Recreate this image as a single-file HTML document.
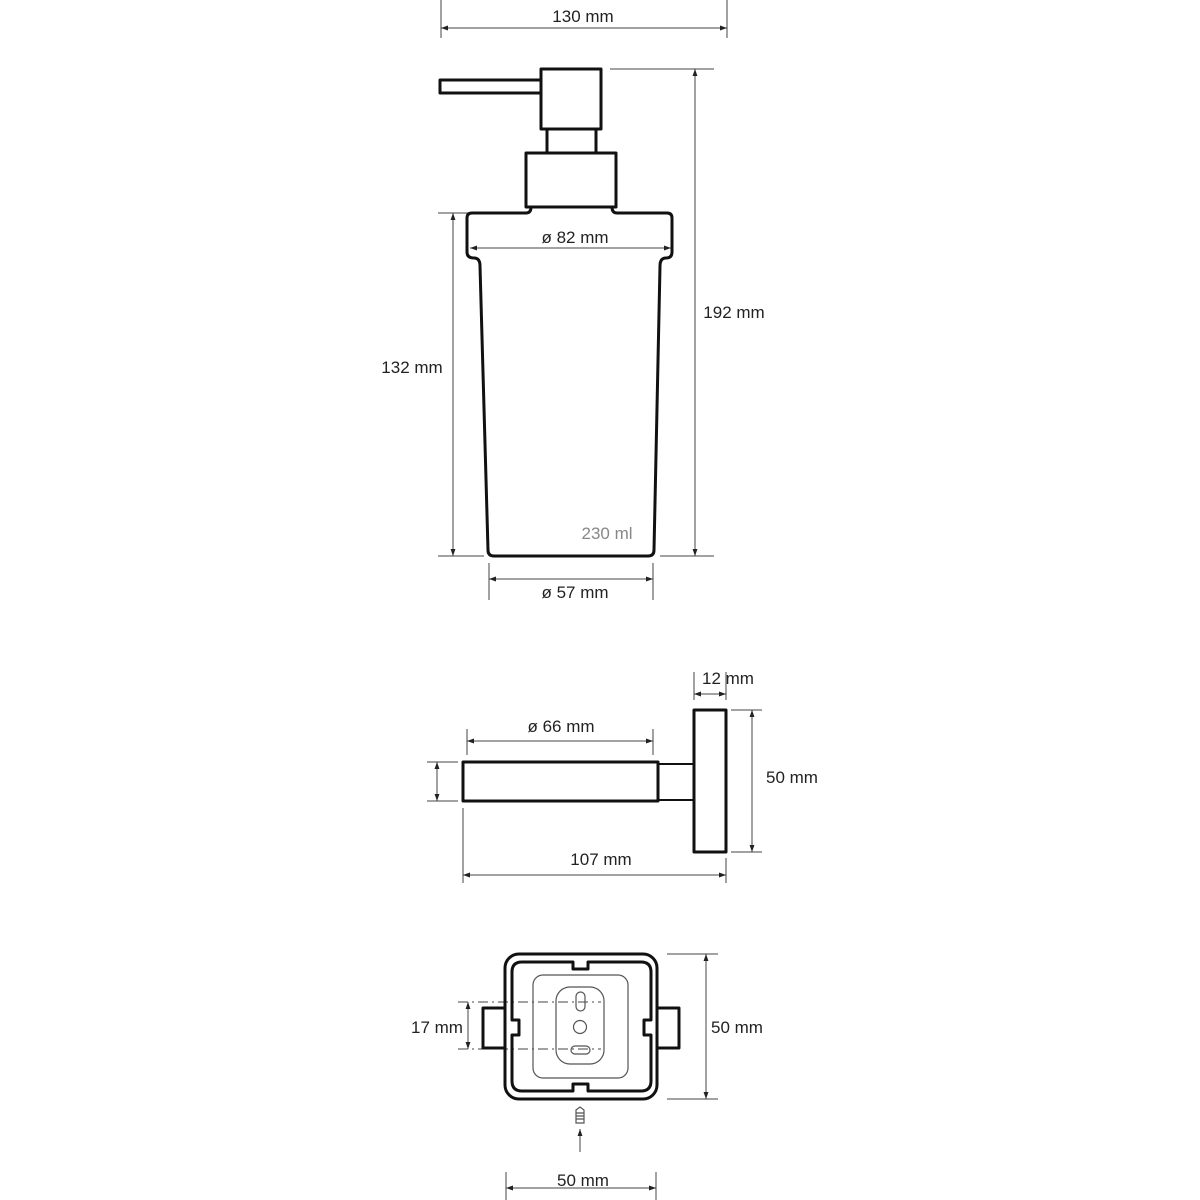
<!DOCTYPE html>
<html><head><meta charset="utf-8"><style>
html,body{margin:0;padding:0;background:#fff}
svg{display:block}
text{font-family:"Liberation Sans",sans-serif;font-size:17px;fill:#222;text-anchor:middle}
</style></head><body>
<svg width="1200" height="1200" viewBox="0 0 1200 1200" xmlns="http://www.w3.org/2000/svg">
<defs>
<marker id="a" viewBox="0 0 10 10" refX="10" refY="5" markerWidth="7" markerHeight="7" orient="auto-start-reverse"><path d="M0,1.5 L10,5 L0,8.5 z" fill="#222"/></marker>
</defs>
<g stroke="#444" stroke-width="1" fill="none">
<line x1="441" y1="0" x2="441" y2="38"/><line x1="727" y1="0" x2="727" y2="38"/>
<line x1="441" y1="28" x2="727" y2="28" marker-start="url(#a)" marker-end="url(#a)"/>
<line x1="610" y1="69" x2="714" y2="69"/><line x1="660" y1="556" x2="714" y2="556"/>
<line x1="695" y1="69" x2="695" y2="556" marker-start="url(#a)" marker-end="url(#a)"/>
<line x1="438" y1="213" x2="468" y2="213"/><line x1="438" y1="556" x2="484" y2="556"/>
<line x1="453" y1="213" x2="453" y2="556" marker-start="url(#a)" marker-end="url(#a)"/>
<line x1="470" y1="248" x2="671" y2="248" marker-start="url(#a)" marker-end="url(#a)"/>
<line x1="489" y1="563" x2="489" y2="600"/><line x1="653" y1="563" x2="653" y2="600"/>
<line x1="489" y1="579" x2="653" y2="579" marker-start="url(#a)" marker-end="url(#a)"/>
<line x1="467" y1="729" x2="467" y2="755"/><line x1="653" y1="729" x2="653" y2="755"/>
<line x1="467" y1="741" x2="653" y2="741" marker-start="url(#a)" marker-end="url(#a)"/>
<line x1="694" y1="672" x2="694" y2="700"/><line x1="726" y1="672" x2="726" y2="700"/>
<line x1="694" y1="694" x2="726" y2="694" marker-start="url(#a)" marker-end="url(#a)"/>
<line x1="731" y1="710" x2="762" y2="710"/><line x1="731" y1="852" x2="762" y2="852"/>
<line x1="752" y1="710" x2="752" y2="852" marker-start="url(#a)" marker-end="url(#a)"/>
<line x1="427" y1="762" x2="458" y2="762"/><line x1="427" y1="801" x2="458" y2="801"/>
<line x1="437" y1="762" x2="437" y2="801" marker-start="url(#a)" marker-end="url(#a)"/>
<line x1="463" y1="808" x2="463" y2="883"/><line x1="726" y1="858" x2="726" y2="883"/>
<line x1="463" y1="875" x2="726" y2="875" marker-start="url(#a)" marker-end="url(#a)"/>
<line x1="667" y1="954" x2="718" y2="954"/><line x1="667" y1="1099" x2="718" y2="1099"/>
<line x1="706" y1="954" x2="706" y2="1099" marker-start="url(#a)" marker-end="url(#a)"/>
<line x1="468" y1="1002" x2="468" y2="1049" marker-start="url(#a)" marker-end="url(#a)"/>
<line x1="506" y1="1172" x2="506" y2="1200"/><line x1="656" y1="1172" x2="656" y2="1200"/>
<line x1="506" y1="1188" x2="656" y2="1188" marker-start="url(#a)" marker-end="url(#a)"/>
<line x1="580" y1="1152" x2="580" y2="1129" marker-end="url(#a)"/>
<line x1="458" y1="1002" x2="601" y2="1002" stroke-dasharray="10,4,2,4"/>
<line x1="458" y1="1049" x2="601" y2="1049" stroke-dasharray="10,4,2,4"/>
</g>
<g stroke="#111" stroke-width="3" fill="none" stroke-linejoin="round">
<rect x="440" y="80" width="101" height="13"/>
<rect x="541" y="69" width="60" height="60"/>
<line x1="547" y1="129" x2="547" y2="153"/><line x1="596" y1="129" x2="596" y2="153"/>
<rect x="526" y="153" width="90" height="54"/>
<path d="M531,207 Q531,213 526,213 L472,213 Q467,213 467,218 L467,252 Q467,258 474,258 Q480,258 480,266 L488,550 Q488,556 494,556 L648,556 Q654,556 654,550 L660,266 Q660,258 666,258 Q672,258 672,252 L672,218 Q672,213 667,213 L617,213 Q612,213 612,207"/>
<rect x="463" y="762" width="195" height="39"/>
<rect x="658" y="764" width="36" height="36" stroke-width="2"/>
<rect x="694" y="710" width="32" height="142"/>
<rect x="505" y="954" width="152" height="145" rx="14"/>
<path d="M522,962 L573,962 L573,969 L588,969 L588,962 L641,962 Q651,962 651,972 L651,1020 L644,1020 L644,1035 L651,1035 L651,1081 Q651,1091 641,1091 L588,1091 L588,1084 L573,1084 L573,1091 L522,1091 Q512,1091 512,1081 L512,1035 L519,1035 L519,1020 L512,1020 L512,972 Q512,962 522,962 Z"/>
<path d="M505,1008 L483,1008 L483,1048 L505,1048 M657,1008 L679,1008 L679,1048 L657,1048"/>
</g>
<g stroke="#555" stroke-width="1.2" fill="none">
<rect x="533" y="975" width="95" height="103" rx="10"/>
<rect x="556" y="987" width="48" height="77" rx="14"/>
<rect x="576" y="992" width="9" height="19" rx="4.5"/>
<circle cx="580" cy="1027" r="6.5"/>
<rect x="571" y="1046" width="19" height="8" rx="4"/>
<path d="M576,1110 L580,1107 L584,1110 L584,1123 L576,1123 Z M576,1113 L584,1113 M576,1116 L584,1116 M576,1119 L584,1119"/>
</g>
<text x="583" y="22">130 mm</text>
<text x="575" y="243">ø 82 mm</text>
<text x="734" y="318">192 mm</text>
<text x="412" y="373">132 mm</text>
<text x="607" y="539" style="fill:#888">230 ml</text>
<text x="575" y="598">ø 57 mm</text>
<text x="728" y="684">12 mm</text>
<text x="561" y="732">ø 66 mm</text>
<text x="792" y="783">50 mm</text>
<text x="601" y="865">107 mm</text>
<text x="437" y="1033">17 mm</text>
<text x="737" y="1033">50 mm</text>
<text x="583" y="1186">50 mm</text>
</svg>
</body></html>
